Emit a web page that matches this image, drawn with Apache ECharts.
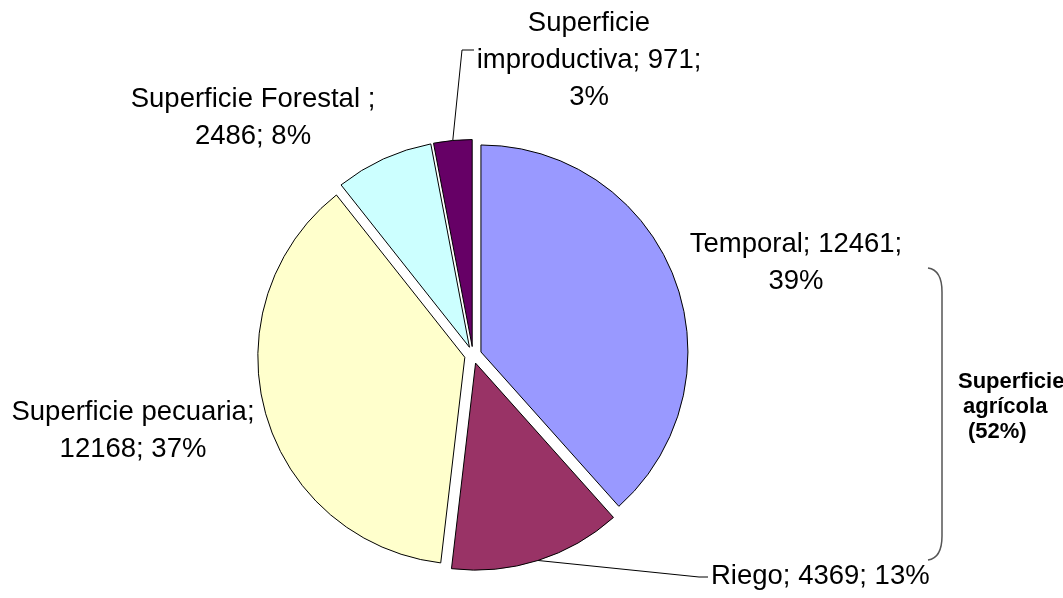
<!DOCTYPE html>
<html>
<head>
<meta charset="utf-8">
<title>Superficie</title>
<script src="https://cdn.jsdelivr.net/npm/echarts@6/dist/echarts.min.js"></script>
<style>
  html, body { margin: 0; padding: 0; background: #ffffff; }
  #chart { width: 1063px; height: 598px; }
</style>
</head>
<body>
<div id="chart"></div>
<script>
// Land use categories, areas and the percentages printed beside each slice
const categories = ['Temporal', 'Riego', 'Superficie pecuaria', 'Superficie Forestal ', 'Superficie improductiva'];
const values = [12461, 4369, 12168, 2486, 971];
const percentLabels = ['39%', '13%', '37%', '8%', '3%'];
const sliceColors = ['#9999FF', '#993366', '#FFFFCC', '#CCFFFF', '#660066'];
const groupLabelLines = ['Superficie', 'agrícola', '(52%)'];

const FONT = '"Liberation Sans", Arial, Helvetica, sans-serif';
const CX = 473, CY = 355, R = 207, EXPLODE = 8.5;

// Text of each slice label, with the line breaks used on the page
function labelText(i) {
  const name = categories[i], v = values[i], p = percentLabels[i];
  switch (i) {
    case 0: return name + '; ' + v + ';\n' + p;
    case 1: return name + '; ' + v + '; ' + p;
    case 2: return name + ';\n' + v + '; ' + p;
    case 3: return name + ';\n' + v + '; ' + p;
    default: {
      const parts = name.split(' ');
      return parts[0] + '\n' + parts[1] + '; ' + v + ';\n' + p;
    }
  }
}

// Where each label sits, plus the elbow of the leader line when one is drawn
const labelPlacement = [
  { x: 796, y: 263, align: 'center' },
  { x: 711, y: 576, align: 'left', guide: [[699, 577], [708, 577]] },
  { x: 133, y: 431, align: 'center' },
  { x: 253, y: 118, align: 'center' },
  { x: 589, y: 60, align: 'center', guide: [[462, 50], [474, 50]] }
];

// Mid angle of every slice (clockwise from 12 o'clock) to push it outwards
const total = values.reduce((a, b) => a + b, 0);
let acc = 0;
const midAngles = values.map(v => {
  const a0 = acc;
  acc += v;
  return ((a0 + v / 2) / total) * Math.PI * 2;
});

// One pie layer per slice: every layer lays out all values, only its own slice is painted
const series = values.map((_, i) => ({
  type: 'pie',
  silent: true,
  animation: false,
  center: [CX + EXPLODE * Math.sin(midAngles[i]), CY - EXPLODE * Math.cos(midAngles[i])],
  radius: R,
  startAngle: 90,
  clockwise: true,
  avoidLabelOverlap: false,
  emphasis: { disabled: true },
  data: values.map((val, j) => ({
    name: categories[j],
    value: val,
    itemStyle: j === i
      ? { color: sliceColors[j], borderColor: '#000000', borderWidth: 1 }
      : { color: 'rgba(0,0,0,0)', borderWidth: 0 },
    label: { show: j === i },
    labelLine: { show: j === i && !!labelPlacement[j].guide }
  })),
  label: {
    position: 'outside',
    formatter: p => labelText(p.dataIndex),
    fontFamily: FONT,
    fontSize: 27.5,
    lineHeight: 37,
    color: '#000000'
  },
  labelLine: {
    length: 10,
    length2: 10,
    lineStyle: { color: '#000000', width: 1 }
  },
  labelLayout: p => {
    if (p.dataIndex !== i) return {};
    const place = labelPlacement[i];
    const out = { x: place.x, y: place.y, align: place.align, verticalAlign: 'middle' };
    if (place.guide && p.labelLinePoints) {
      out.labelLinePoints = [p.labelLinePoints[0]].concat(place.guide);
    }
    return out;
  }
}));

const chart = echarts.init(document.getElementById('chart'), null, { renderer: 'canvas' });
chart.setOption({
  backgroundColor: '#ffffff',
  animation: false,
  series: series,
  graphic: {
    elements: [
      // brace grouping Temporal and Riego
      { type: 'bezierCurve', shape: { x1: 928, y1: 268, cpx1: 942, cpy1: 270, x2: 942, y2: 292 },
        style: { stroke: '#555555', lineWidth: 1.5, fill: null } },
      { type: 'line', shape: { x1: 942, y1: 292, x2: 942, y2: 536 },
        style: { stroke: '#555555', lineWidth: 1.5 } },
      { type: 'bezierCurve', shape: { x1: 942, y1: 536, cpx1: 942, cpy1: 558, x2: 928, y2: 560 },
        style: { stroke: '#555555', lineWidth: 1.5, fill: null } },
      { type: 'text', x: 958, y: 382,
        style: { text: groupLabelLines[0], font: 'bold 22px ' + FONT, fill: '#000000', verticalAlign: 'middle' } },
      { type: 'text', x: 963, y: 407,
        style: { text: groupLabelLines[1], font: 'bold 22px ' + FONT, fill: '#000000', verticalAlign: 'middle' } },
      { type: 'text', x: 968, y: 432,
        style: { text: groupLabelLines[2], font: 'bold 22px ' + FONT, fill: '#000000', verticalAlign: 'middle' } }
    ]
  }
});
</script>
</body>
</html>
